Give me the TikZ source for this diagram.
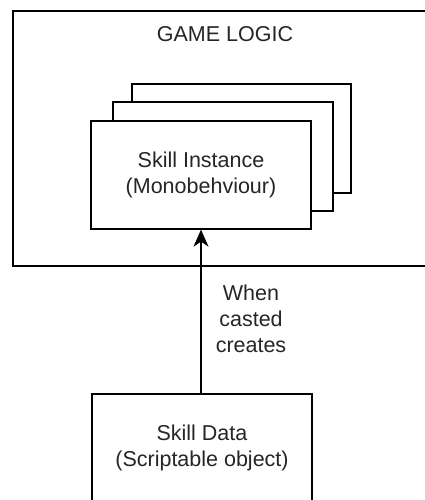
\documentclass[tikz,border=0pt]{standalone}
\usepackage{fontspec}
\setmainfont{Liberation Sans}
\usetikzlibrary{arrows.meta}
\begin{document}
\begin{tikzpicture}[x=1pt,y=-1pt,
  box/.style={draw=black, line width=1.3pt, fill=white, rectangle, inner sep=0pt},
  txt/.style={font=\fontsize{21.5}{26}\selectfont, text=black!85, align=center},
  flow/.style={draw=black, line width=1.3pt, -{Stealth[length=17pt,width=15pt,inset=5pt]}}]
  \useasboundingbox (0,0) rectangle (425,500);
  \clip (0,0) rectangle (425,500);
  \fill[white] (0,0) rectangle (425,500);
  % container, its right edge runs past the page
  \node[box, minimum width=427pt, minimum height=255pt] (game) at (226.5,138.5) {};
  \node[txt] (gametitle) at (225,34) {GAME LOGIC};
  % stacked instances
  \node[box, minimum width=219pt, minimum height=109pt] (back) at (241.5,138.5) {};
  \node[box, minimum width=220pt, minimum height=109pt] (mid) at (223,156.5) {};
  \node[box, minimum width=220pt, minimum height=108pt, txt] (front) at (201,175) {Skill Instance\\(Monobehviour)};
  % data asset
  \node[box, minimum width=220pt, minimum height=108pt, txt] (data) at (202,448) {Skill Data\\(Scriptable object)};
  \draw[flow] (data.north -| front.south) -- (front.south);
  \node[txt] (lbl) at (251,319) {When\\casted\\creates};
\end{tikzpicture}
\end{document}
